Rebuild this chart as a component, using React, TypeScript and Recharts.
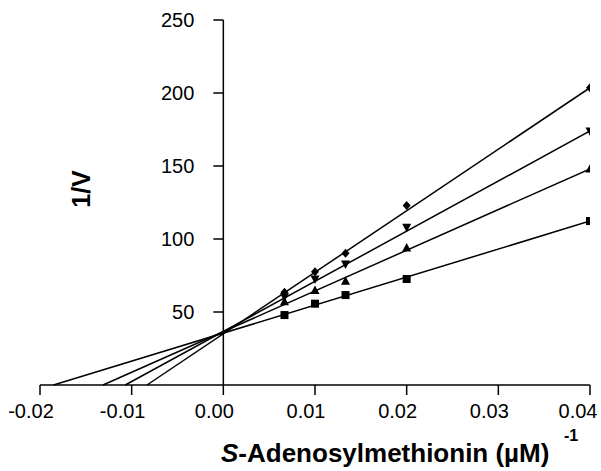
import React from 'react';
import { ComposedChart, Line, Scatter, XAxis, YAxis, ReferenceLine } from 'recharts';

// 1/[SAM] values (µM^-1)
const xValues = [0.00667, 0.01, 0.01333, 0.02, 0.04];
// 1/V for each inhibitor level
const squareValues = [47.9, 55.7, 61.6, 72.6, 112.3];
const triUpValues = [57.0, 64.8, 71.0, 93.8, 148.0];
const triDownValues = [60.5, 72.6, 82.9, 108.0, 174.0];
const diamondValues = [63.5, 77.6, 90.2, 123.0, 203.6];

// regression lines: x-intercept (where 1/V = 0) and value at x = 0.04
const fitXIntercepts = [-0.01853, -0.01313, -0.0107, -0.00833];
const fitEndX = 0.04;
const fitEndValues = [112.3, 148.0, 174.0, 203.6];

const xTicks = [-0.02, -0.01, 0, 0.01, 0.02, 0.03, 0.04];
const yTicks = [50, 100, 150, 200, 250];

const FONT = '"Liberation Sans", Arial, Helvetica, sans-serif';

const toPoints = (vals: number[]) => xValues.map((x, i) => ({ x, y: vals[i] }));
const fitLines = fitXIntercepts.map((x0, i) => [
  { x: x0, y: 0 },
  { x: fitEndX, y: fitEndValues[i] },
]);
const yTickData = yTicks.map((y) => ({ x: 0, y }));

const SquareShape = (p: any) => (
  <rect x={p.cx - 4} y={p.cy - 4} width={8} height={8} fill="#000" />
);
const TriUpShape = (p: any) => (
  <polygon
    points={`${p.cx},${p.cy - 5} ${p.cx + 4.5},${p.cy + 3.5} ${p.cx - 4.5},${p.cy + 3.5}`}
    fill="#000"
  />
);
const TriDownShape = (p: any) => (
  <polygon
    points={`${p.cx},${p.cy + 5} ${p.cx + 4.5},${p.cy - 3.5} ${p.cx - 4.5},${p.cy - 3.5}`}
    fill="#000"
  />
);
const DiamondShape = (p: any) => (
  <polygon
    points={`${p.cx},${p.cy - 4.5} ${p.cx + 4},${p.cy} ${p.cx},${p.cy + 4.5} ${p.cx - 4},${p.cy}`}
    fill="#000"
  />
);
const YTickShape = (p: any) => (
  <g>
    <line x1={p.cx - 10} x2={p.cx} y1={p.cy} y2={p.cy} stroke="#000" strokeWidth={1.5} />
    <text
      x={p.cx - 29}
      y={p.cy}
      dy="0.36em"
      textAnchor="end"
      fontSize={20}
      fontFamily={FONT}
      fill="#000"
    >
      {p.payload.y}
    </text>
  </g>
);

const XTick = (p: any) => (
  <text
    x={p.x - 9}
    y={p.y}
    dy="0.71em"
    textAnchor="middle"
    fontSize={20}
    fontFamily={FONT}
    fill="#000"
  >
    {Number(p.payload.value).toFixed(2)}
  </text>
);

export default function App() {
  return (
    <div style={{ position: 'absolute', left: 0, top: 0, width: 601, height: 471 }}>
      <ComposedChart
        width={601}
        height={471}
        margin={{ top: 20, right: 11, bottom: 56, left: 40 }}
      >
        <XAxis
          dataKey="x"
          type="number"
          domain={[-0.02, 0.04]}
          ticks={xTicks}
          allowDataOverflow
          height={30}
          tickSize={10}
          tickMargin={9}
          axisLine={{ stroke: '#000', strokeWidth: 1.5 }}
          tickLine={{ stroke: '#000', strokeWidth: 1.5 }}
          tick={XTick}
        />
        <YAxis dataKey="y" type="number" domain={[0, 250]} hide />
        <ReferenceLine x={0} stroke="#000" strokeWidth={1.5} />
        {fitLines.map((d, i) => (
          <Line
            key={i}
            data={d}
            dataKey="y"
            stroke="#000"
            strokeWidth={1.5}
            dot={false}
            activeDot={false}
            isAnimationActive={false}
          />
        ))}
        <Scatter data={toPoints(squareValues)} dataKey="y" shape={SquareShape} isAnimationActive={false} />
        <Scatter data={toPoints(triUpValues)} dataKey="y" shape={TriUpShape} isAnimationActive={false} />
        <Scatter data={toPoints(triDownValues)} dataKey="y" shape={TriDownShape} isAnimationActive={false} />
        <Scatter data={toPoints(diamondValues)} dataKey="y" shape={DiamondShape} isAnimationActive={false} />
        <Scatter data={yTickData} dataKey="y" shape={YTickShape} isAnimationActive={false} />
        <text
          x={81}
          y={189}
          transform="rotate(-90 81 189)"
          textAnchor="middle"
          dominantBaseline="central"
          fontSize={25}
          fontWeight="bold"
          fontFamily={FONT}
          fill="#000"
        >
          1/V
        </text>
        <text
          x={221}
          y={462}
          textAnchor="start"
          fontSize={26}
          fontWeight="bold"
          fontFamily={FONT}
          fill="#000"
        >
          <tspan fontStyle="italic">S</tspan>-Adenosylmethionin (µM)
        </text>
        <text x={564} y={441} fontSize={16} fontWeight="bold" fontFamily={FONT} fill="#000">
          -1
        </text>
      </ComposedChart>
    </div>
  );
}
